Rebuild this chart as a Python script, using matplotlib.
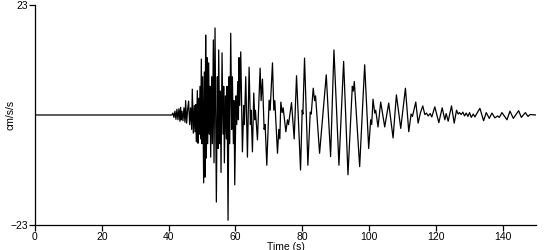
import matplotlib
matplotlib.use("Agg")
import matplotlib.pyplot as plt

# Extrema of the trace (time in s, acceleration in cm/s/s)
times = [0.0, 41.0, 41.3, 41.6, 41.9, 42.2, 42.5, 42.8, 43.1, 43.4, 43.6, 43.8,
         44.0, 44.3, 44.6, 44.9, 45.1, 45.4, 45.7, 46.0, 46.3, 46.6, 46.9, 47.1,
         47.4, 47.7, 47.9, 48.1, 48.3, 48.6, 48.8, 49.0, 49.2, 49.4, 49.6, 49.8,
         50.0, 50.2, 50.5, 50.7, 50.9, 51.1, 51.3, 51.5, 51.7, 52.0, 52.2, 52.4,
         52.6, 52.9, 53.1, 53.4, 53.6, 53.9, 54.3, 54.6, 54.8, 55.0, 55.3, 55.5,
         55.7, 56.0, 56.3, 56.5, 56.7, 57.0, 57.3, 57.5, 57.8, 58.1, 58.3, 58.6,
         58.9, 59.1, 59.4, 59.6, 59.8, 60.2, 60.4, 60.7, 60.9, 61.1, 61.3, 61.6,
         62.1, 62.5, 62.7, 63.1, 63.6, 64.1, 64.5, 64.7, 65.1, 65.5, 65.8, 66.0,
         66.6, 67.4, 67.7, 68.1, 68.6, 68.9, 69.4, 70.1, 70.4, 71.1, 71.5, 71.8,
         72.6, 73.0, 73.3, 73.6, 74.0, 74.3, 75.1, 75.6, 75.9, 76.8, 77.6, 78.3,
         79.5, 80.0, 80.2, 80.7, 81.7, 82.4, 82.7, 83.3, 83.7, 84.0, 85.2, 87.2,
         88.5, 89.5, 91.0, 92.4, 93.7, 95.0, 95.3, 95.6, 97.2, 98.7, 99.9, 100.5,
         100.8, 101.2, 101.7, 102.0, 102.7, 103.5, 104.7, 105.9, 107.2, 108.2, 109.5, 110.9,
         111.9, 112.6, 113.0, 114.0, 114.7, 115.4, 116.1, 116.7, 117.2, 117.7, 118.3, 118.8,
         119.7, 120.9, 121.9, 122.7, 123.1, 123.7, 124.7, 125.5, 126.2, 126.7, 127.1, 127.6,
         128.1, 128.6, 129.1, 129.6, 130.1, 130.6, 131.2, 131.7, 132.1, 133.2, 134.3, 135.1,
         136.0, 136.8, 137.7, 138.5, 139.0, 139.8, 141.3, 142.2, 143.2, 144.8, 145.6, 146.8,
         147.6, 148.2, 150.0]
accel = [0.0, 0.0, 0.4, -0.5, 0.8, -0.9, 1.2, -1.0, 1.3, -1.3, 1.6, -1.0,
         0.8, -1.2, 1.5, -1.5, 3.0, -1.7, 1.2, 2.9, -2.0, 1.5, -3.0, 5.4,
         -3.8, 2.0, -3.5, 2.2, -5.6, 5.1, -5.9, 3.5, -4.0, 6.0, -5.0, 11.7,
         -6.0, 8.0, -14.2, 9.0, -13.0, 16.7, -9.0, 12.0, -6.0, 10.9, -4.0, 6.0,
         -8.8, 8.0, -6.0, 15.7, -10.0, 18.2, -18.2, 8.0, -7.0, 13.6, -6.0, 5.0,
         -12.0, 13.0, -4.0, 6.0, -10.0, 4.0, -5.0, 6.0, -22.0, 8.0, -6.0, 17.1,
         -3.0, 8.0, -6.0, 3.0, -14.6, 4.0, -2.0, 7.0, -1.0, 12.0, 2.0, 13.2,
         -7.7, 2.0, -2.0, 8.0, -8.8, 10.0, -2.0, 1.0, -7.7, 4.6, -1.0, 1.0,
         -5.2, 9.8, 3.0, 7.5, -3.0, -2.0, -10.5, 3.1, 1.0, 10.9, 1.0, 3.0,
         -8.0, -3.0, -5.0, 2.7, 0.5, 1.5, -3.5, -1.0, -2.0, 2.6, -5.0, 8.2,
         -11.5, 1.0, 0.2, 11.9, -10.5, 0.6, 0.2, 5.6, 3.0, 4.0, -8.0, 8.4,
         -8.7, 13.6, -10.5, 11.2, -12.5, 6.0, 5.0, 7.0, -10.8, 10.5, -7.0, -1.0,
         -2.0, 3.3, 0.4, 1.0, -2.5, 2.7, -2.5, 2.5, -4.8, 4.2, -2.8, 5.6,
         -3.5, 0.2, -0.3, 2.7, -1.7, 0.5, 1.9, 0.1, 0.4, -0.2, 0.3, -0.4,
         1.7, -1.6, 1.5, -1.0, 0.3, -1.3, 1.9, -1.7, 1.0, 0.2, 0.5, 0.1,
         0.6, -0.2, 0.4, -0.3, 0.5, -0.5, 0.2, -0.4, 0.1, 1.4, -1.2, 0.5,
         -0.7, 0.4, -0.6, -0.2, -0.5, 0.5, -1.0, 0.8, -0.7, 0.9, -0.5, 0.5,
         -0.3, 0.1, 0.0]

x_ticks = [0, 20, 40, 60, 80, 100, 120, 140]
y_ticks = [-23, 23]

plt.rcParams['font.family'] = ['Liberation Sans', 'DejaVu Sans']

fig = plt.figure(figsize=(5.5, 2.5), dpi=100)
ax = fig.add_axes([0.0636, 0.1, 0.911, 0.88])
ax.plot(times, accel, color='black', linewidth=0.9)

ax.set_xlim(0, 150)
ax.set_ylim(-23, 23)
ax.set_xticks(x_ticks)
ax.set_yticks(y_ticks)
ax.spines['top'].set_visible(False)
ax.spines['right'].set_visible(False)
for s in ('left', 'bottom'):
    ax.spines[s].set_linewidth(0.9)
ax.tick_params(axis='both', direction='out', length=4, width=0.9,
               labelsize=7.5, pad=1)
ax.set_xlabel('Time (s)', fontsize=7.5, labelpad=-0.3)
ax.set_ylabel('cm/s/s', fontsize=7.5, labelpad=-4)

fig.savefig('out.png', dpi=100)
